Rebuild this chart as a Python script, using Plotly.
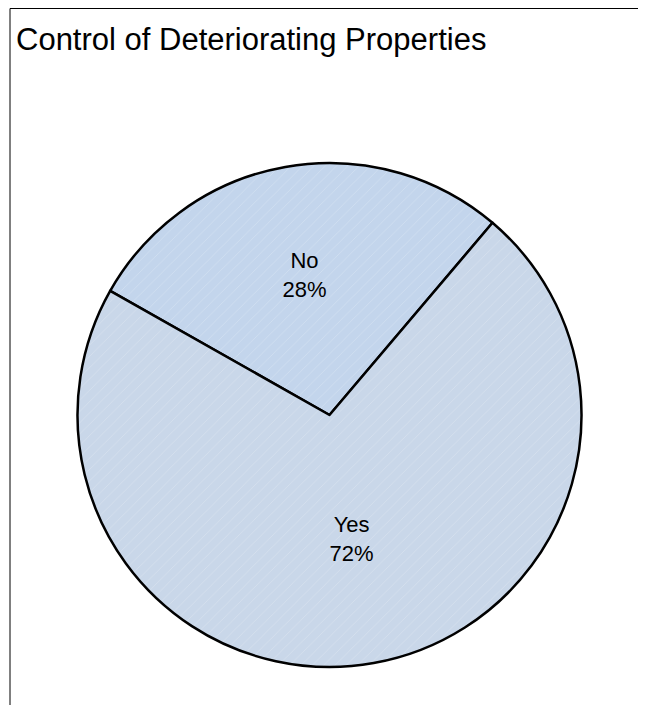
import plotly.graph_objects as go

# survey answers, as printed on the slices
labels = ["No", "Yes"]
shares = [28, 72]

title_text = "Control of Deteriorating Properties"

# the page body adds 8px around the figure, so the figure is 16px smaller than the window
W, H = 630, 697


def px_x(x):
    return x / W


def px_y(y):
    return 1 - y / H


# pie circle, in figure pixels: centre (321.5, 407), radius 252
cx, cy, r = 321.5, 407, 252

fig = go.Figure()
fig.add_trace(go.Pie(
    labels=labels, values=shares, sort=False, direction="clockwise", rotation=-60.5,
    textinfo="label+percent", textposition="inside", insidetextorientation="horizontal",
    textfont=dict(family="Liberation Sans, Arial, sans-serif", size=22, color="black"),
    marker=dict(colors=["#c3d5ec", "#c9d7e9"], line=dict(color="black", width=2.5),
                pattern=dict(shape="/", fgcolor="white", fgopacity=0.3, size=8, solidity=0.08,
                             fillmode="overlay")),
    domain=dict(x=[px_x(cx - r), px_x(cx + r)], y=[px_y(cy + r), px_y(cy - r)]),
    showlegend=False, hoverinfo="label+percent",
))

# chart-area frame: only its top and left edges fall inside the picture
fig.add_shape(type="line", xref="paper", yref="paper", x0=px_x(2), x1=1, y0=px_y(0.5), y1=px_y(0.5),
              line=dict(color="black", width=1))
fig.add_shape(type="line", xref="paper", yref="paper", x0=px_x(2), x1=px_x(2), y0=0, y1=px_y(0.5),
              line=dict(color="black", width=1))

fig.update_layout(
    width=W, height=H, margin=dict(l=0, r=0, t=0, b=0),
    paper_bgcolor="white", plot_bgcolor="white",
    title=dict(text=title_text, x=px_x(8), xanchor="left", xref="paper",
               y=px_y(20), yanchor="top", yref="paper",
               font=dict(family="Liberation Sans, Arial, sans-serif", size=31, color="black")),
)

fig.write_html("out.html")
